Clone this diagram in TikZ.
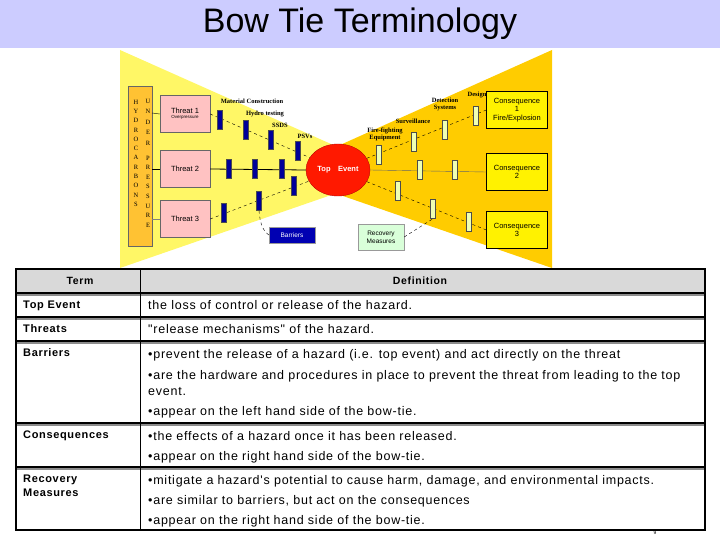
\documentclass[tikz,border=0pt]{standalone}
\usepackage{fontspec}
\setmainfont{Liberation Sans}
\newfontfamily\serif{Liberation Serif}
\newfontfamily\wide[LetterSpace=6]{Liberation Sans}
\usetikzlibrary{shapes.geometric}
\begin{document}
\begin{tikzpicture}[x=1pt,y=-1pt,
  thr/.style={draw=black!60,fill=pink!80!red!60,minimum width=50pt,minimum height=37pt,font=\fontsize{7.5}{8}\selectfont},
  con/.style={draw=black,fill=yellow,minimum width=61pt,minimum height=37pt,align=center,font=\fontsize{7.5}{8.5}\selectfont},
  bar/.style={draw=black!70,fill=blue!60!black,minimum width=5pt,minimum height=19pt,inner sep=0pt},
  rec/.style={draw=black!70,fill=green!20!yellow!30,minimum width=5pt,minimum height=19pt,inner sep=0pt},
  lbl/.style={font=\serif\bfseries\fontsize{6.5}{7}\selectfont,align=center,inner sep=0pt},
  cell/.style={anchor=base west,font=\wide\fontsize{12.5}{14}\selectfont,inner sep=0pt},
  lcell/.style={anchor=base west,font=\wide\bfseries\fontsize{11}{14}\selectfont,inner sep=0pt},
  rowline/.style={line width=1.6pt},
]
\useasboundingbox (0,0) rectangle (720,540);
\fill[blue!20!white] (0,0) rectangle (720,48);
\node (title) at (360,24) {\fontsize{34}{36}\selectfont Bow Tie Terminology};
% bow tie background
\fill[yellow!60] (120,50) -- (120,268) -- (340,192) -- (340,148) -- cycle;
\fill[orange!40!yellow] (552,50) -- (552,268) -- (340,195) -- (340,145) -- cycle;
% hydrocarbons
\node[draw=black!60,fill=orange!60!yellow!80,minimum width=24pt,minimum height=160pt,anchor=north west] (hc) at (128,86) {};
\foreach \c [count=\i] in {H,Y,D,R,O,C,A,R,B,O,N,S}
  \node[font=\serif\fontsize{6.5}{7}\selectfont,inner sep=0pt] (h\i) at (136,{102+9.3*(\i-1)}) {\c};
\foreach \c [count=\i] in {U,N,D,E,R}
  \node[font=\serif\fontsize{6.5}{7}\selectfont,inner sep=0pt] (u\i) at (148,{101+10.5*(\i-1)}) {\c};
\foreach \c [count=\i] in {P,R,E,S,S,U,R,E}
  \node[font=\serif\fontsize{6.5}{7}\selectfont,inner sep=0pt] (p\i) at (148,{158+9.6*(\i-1)}) {\c};
% threats
\node[thr] (t1) at (185,114) {\shortstack{\fontsize{7.5}{8}\selectfont Threat 1\\[-1pt]\fontsize{4.5}{5}\selectfont Overpressure}};
\node[thr] (t2) at (185,169) {Threat 2};
\node[thr] (t3) at (185,219) {Threat 3};
\coordinate (hc1) at (152,113); \coordinate (hc2) at (152,169); \coordinate (hc3) at (152,219);
\draw (hc1) -- (t1.west); \draw (hc2) -- (t2.west); \draw[black!50] (hc3) -- (t3.west);
% top event
\node[draw=red!70!black,fill=red!80!orange,ellipse,minimum width=64pt,minimum height=52pt,inner sep=0pt] (te) at (338,170) {};
% consequences
\node[con] (c1) at (517,110) {Consequence\\1\\Fire/Explosion};
\node[con] (c2) at (517,172) {Consequence\\2};
\node[con] (c3) at (517,230) {Consequence\\3};
% lines
\draw[dashed] (t1.east) -- (te);
\draw[thick] (t2.east) -- (te.west);
\draw[dashed] (t3.east) -- (te);
\draw[dashed] (te) -- (c1.west);
\draw[black!60] (te.east) -- (c2.west);
\draw[dashed] (te) -- (c3.west);
\fill[red!80!orange] (te) ellipse (31.5pt and 25.5pt);
\node[text=white,font=\bfseries\fontsize{7.5}{8}\selectfont] (tet) at (338,170) {Top\quad Event};
% barriers
\foreach \x/\y [count=\i] in {220/120,246/130,271/140,298/151,229/169,255/169,282/169,224/213,259/201,294/186}
  \node[bar] (b\i) at (\x,\y) {};
\foreach \x/\y [count=\i] in {379/155,414/142,445/130,476/116,420/170,455/170,398/191,433/209,469/222}
  \node[rec] (r\i) at (\x,\y) {};
\node[lbl] (l1) at (252,101) {Material Construction};
\node[lbl] (l2) at (265,114) {Hydro testing};
\node[lbl] (l3) at (280,125) {SSDS};
\node[lbl] (l4) at (305,136) {PSVs};
\node[lbl] (l5) at (385,134) {Fire-fighting\\Equipment};
\node[lbl] (l6) at (413,121) {Surveillance};
\node[lbl] (l7) at (445,104) {Detection\\Systems};
\node[lbl] (l8) at (477,95) {Design};
\node[draw=black!40,fill=blue!70!black,text=white,minimum width=46pt,minimum height=16pt,font=\fontsize{6.5}{7}\selectfont] (bb) at (292,235) {Barriers};
\node[draw=black!40,fill=green!15,minimum width=46pt,minimum height=26pt,align=center,font=\fontsize{6.5}{8}\selectfont] (rb) at (381,237) {Recovery\\Measures};
\draw[dashed] (b9.south) .. controls (260,222) and (262,230) .. (bb.west);
\draw[dashed] (rb.east) -- (r8.south);
% table
\fill[black!15] (16,269) rectangle (705,293);
\draw[black!45,line width=1.2pt] (16,295) -- (705,295) (16,319) -- (705,319) (16,343) -- (705,343) (16,425) -- (705,425) (16,469) -- (705,469);
\draw[rowline] (16,293) -- (705,293) (16,317) -- (705,317) (16,341) -- (705,341) (16,423) -- (705,423) (16,467) -- (705,467);
\draw[line width=0.8pt] (140,269) -- (140,530);
\draw[line width=2pt] (16,269) rectangle (705,530);
\node[font=\wide\bfseries\fontsize{10.5}{11}\selectfont] (h1) at (80,281) {Term};
\node[font=\wide\bfseries\fontsize{10.5}{11}\selectfont] (h2) at (420,281) {Definition};
\node[lcell] (a1) at (23,308) {Top Event};
\node[lcell] (a2) at (23,332) {Threats};
\node[lcell] (a3) at (23,356) {Barriers};
\node[lcell] (a4) at (23,438) {Consequences};
\node[lcell] (a5) at (23,482) {Recovery};
\node[lcell] (a6) at (23,496) {Measures};
\node[cell] (d1) at (148,309) {the loss of control or release of the hazard.};
\node[cell] (d2) at (148,333) {"release mechanisms" of the hazard.};
\node[cell] (d3) at (148,358) {\textbullet prevent the release of a hazard (i.e. top event) and act directly on the threat};
\node[cell] (d4) at (148,379) {\textbullet are the hardware and procedures in place to prevent the threat from leading to the top};
\node[cell] (d5) at (148,395) {event.};
\node[cell] (d6) at (148,415) {\textbullet appear on the left hand side of the bow-tie.};
\node[cell] (d7) at (148,440) {\textbullet the effects of a hazard once it has been released.};
\node[cell] (d8) at (148,460) {\textbullet appear on the right hand side of the bow-tie.};
\node[cell] (d9) at (148,484) {\textbullet mitigate a hazard's potential to cause harm, damage, and environmental impacts.};
\node[cell] (d10) at (148,504) {\textbullet are similar to barriers, but act on the consequences};
\node[cell] (d11) at (148,524) {\textbullet appear on the right hand side of the bow-tie.};
\node[font=\fontsize{5}{5}\selectfont] (pg) at (655,533) {9};
\end{tikzpicture}
\end{document}
